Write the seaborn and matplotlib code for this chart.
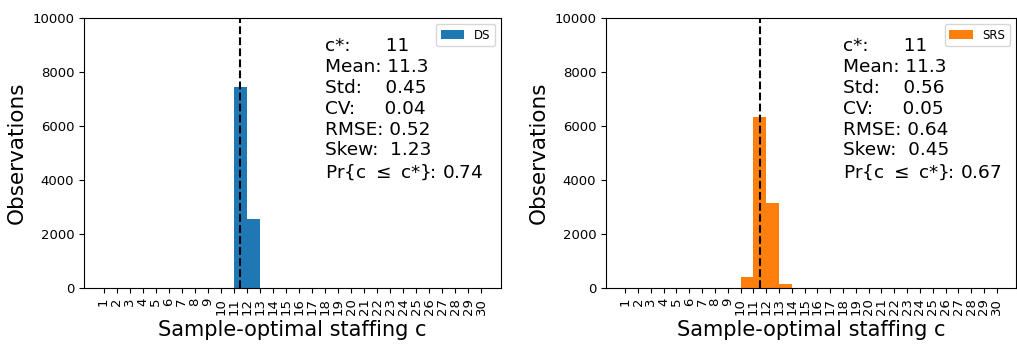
import numpy as np
import pandas as pd
import matplotlib
matplotlib.use("Agg")
import matplotlib.pyplot as plt
import seaborn as sns

# Staffing levels and observation counts per method
staffing = list(range(1, 31))
ds_levels = [11, 12]
ds_counts = [7450, 2550]
srs_levels = [10, 11, 12, 13]
srs_counts = [390, 6340, 3140, 130]

c_star = 11
ds_stats = {"mean": 11.3, "std": 0.45, "cv": 0.04, "rmse": 0.52, "skew": 1.23, "pr": 0.74}
srs_stats = {"mean": 11.3, "std": 0.56, "cv": 0.05, "rmse": 0.64, "skew": 0.45, "pr": 0.67}

panels = [
    ("DS", ds_levels, ds_counts, ds_stats, "#1f77b4"),
    ("SRS", srs_levels, srs_counts, srs_stats, "#ff7f0e"),
]

fig = plt.figure(figsize=(10.17, 3.45), dpi=100)
ax_boxes = [
    [84 / 1017, 1 - 288 / 345, 417 / 1017, 270 / 345],
    [606 / 1017, 1 - 288 / 345, 410 / 1017, 270 / 345],
]

bins = list(range(1, 32))

for (name, levels, counts, st, color), box in zip(panels, ax_boxes):
    ax = fig.add_axes(box)
    df = pd.DataFrame({"c": levels, "count": counts, "method": name})
    sns.histplot(data=df, x="c", weights="count", hue="method",
                 palette=[color], bins=bins, alpha=1, linewidth=0,
                 legend=True, ax=ax)
    # dashed marker through the centre of the c* bin
    ax.axvline(c_star + 0.5, color="black", linestyle="--", linewidth=1.5)

    ax.set_xlim(-0.5, 31.5)
    ax.set_ylim(0, 10000)
    ax.set_yticks(np.arange(0, 10001, 2000))
    ax.set_xticks(staffing)
    ax.set_xticklabels([str(s) for s in staffing], rotation=90)
    ax.tick_params(axis="both", labelsize=9.5)
    ax.set_xlabel("Sample-optimal staffing c", fontsize=15)
    ax.set_ylabel("Observations", fontsize=15.5)

    txt = (f"c*:      {c_star}\n"
           f"Mean: {st['mean']:.1f}\n"
           f"Std:    {st['std']:.2f}\n"
           f"CV:     {st['cv']:.2f}\n"
           f"RMSE: {st['rmse']:.2f}\n"
           f"Skew:  {st['skew']:.2f}\n"
           f"Pr{{c $\\leq$ c*}}: {st['pr']:.2f}")
    ax.text(18, 9280, txt, fontsize=13.3, va="top", ha="left")

    sns.move_legend(ax, "upper right", title=None, fontsize=8.5)

fig.savefig("out.png", dpi=100)
